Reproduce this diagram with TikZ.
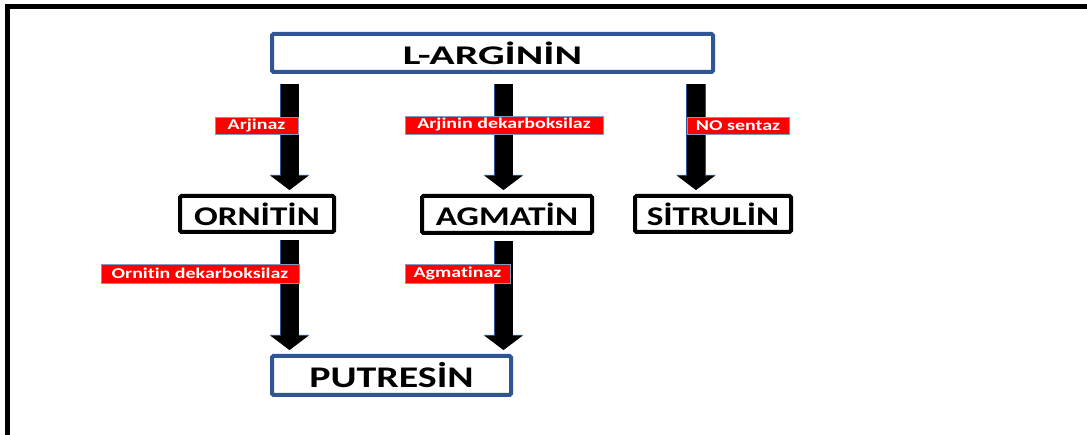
\documentclass[tikz,border=0pt]{standalone}
\usepackage{fontspec}
\setmainfont{Carlito}[Ligatures=NoCommon]
\usetikzlibrary{arrows.meta}
\definecolor{boxblue}{RGB}{47,85,151}
\newcommand{\wide}[2][1.3]{\scalebox{#1}[1]{#2}}

\begin{document}
\begin{tikzpicture}[x=1pt, y=-1pt]
    \tikzstyle{molecule}=[draw=black, line width=4pt, rounded corners=1.5pt, fill=white, inner sep=0pt, font=\fontsize{27}{30}\selectfont\bfseries]
    \tikzstyle{mainbox}=[molecule, draw=boxblue]
    \tikzstyle{enzyme}=[draw=boxblue!60, line width=0.6pt, fill=red, text=white, inner sep=0pt, font=\fontsize{15}{17}\selectfont\bfseries]
    \tikzstyle{bigarrow}=[line width=18pt, -{Triangle[width=37pt, length=14pt, line width=0pt]},
        preaction={draw=boxblue, line width=19.5pt, -{Triangle[width=39.5pt, length=15pt, line width=0pt]}}]

    \useasboundingbox (0,0) rectangle (1087,435);
    \draw[line width=5pt] (7,435) |- (1087,7);

    \node[mainbox, minimum width=441pt, minimum height=38pt] (arg) at (492.5,53) {\wide[1.55]{L-ARGİNİN}};
    \node[molecule, minimum width=154pt, minimum height=36pt] (orn) at (257,214) {\wide{ORNİTİN}};
    \node[molecule, minimum width=170pt, minimum height=37pt] (agm) at (507,214.5) {\wide{AGMATİN}};
    \node[molecule, minimum width=156pt, minimum height=36pt] (sit) at (713,214) {\wide{SİTRULİN}};
    \node[mainbox, minimum width=239pt, minimum height=39pt, font=\fontsize{30}{33}\selectfont\bfseries] (put) at (391.5,375.5) {\wide[1.33]{PUTRESİN}};

    % arrow columns
    \coordinate (col1) at (289.5,0);
    \coordinate (col2) at (503.5,0);
    \coordinate (col3) at (696,0);

    \draw[bigarrow, shorten <=10pt, shorten >=4pt] (arg.south -| col1) -- (orn.north -| col1);
    \draw[bigarrow, shorten <=10pt, shorten >=4pt] (arg.south -| col2) -- (agm.north -| col2);
    \draw[bigarrow, shorten <=10pt, shorten >=4pt] (arg.south -| col3) -- (sit.north -| col3);
    \draw[bigarrow, shorten <=6pt, shorten >=4pt] (orn.south -| col1) -- (put.north -| col1);
    \draw[bigarrow, shorten <=6pt, shorten >=4pt] (agm.south -| col2) -- (put.north -| col2);

    \node[enzyme, minimum width=83pt, minimum height=17pt] (e1) at (256.5,125.5) {\wide[1.33]{Arjinaz}};
    \node[enzyme, minimum width=198pt, minimum height=18pt] (e2) at (504,125) {\wide[1.33]{Arjinin dekarboksilaz}};
    \node[enzyme, minimum width=102pt, minimum height=17pt] (e3) at (738,125.5) {\wide[1.33]{NO sentaz}};
    \node[enzyme, minimum width=198pt, minimum height=19pt] (e4) at (200,273.5) {\wide[1.33]{Ornitin dekarboksilaz}};
    \node[enzyme, minimum width=105pt, minimum height=19pt] (e5) at (457.5,273.5) {\wide[1.33]{Agmatinaz}};
\end{tikzpicture}
\end{document}
